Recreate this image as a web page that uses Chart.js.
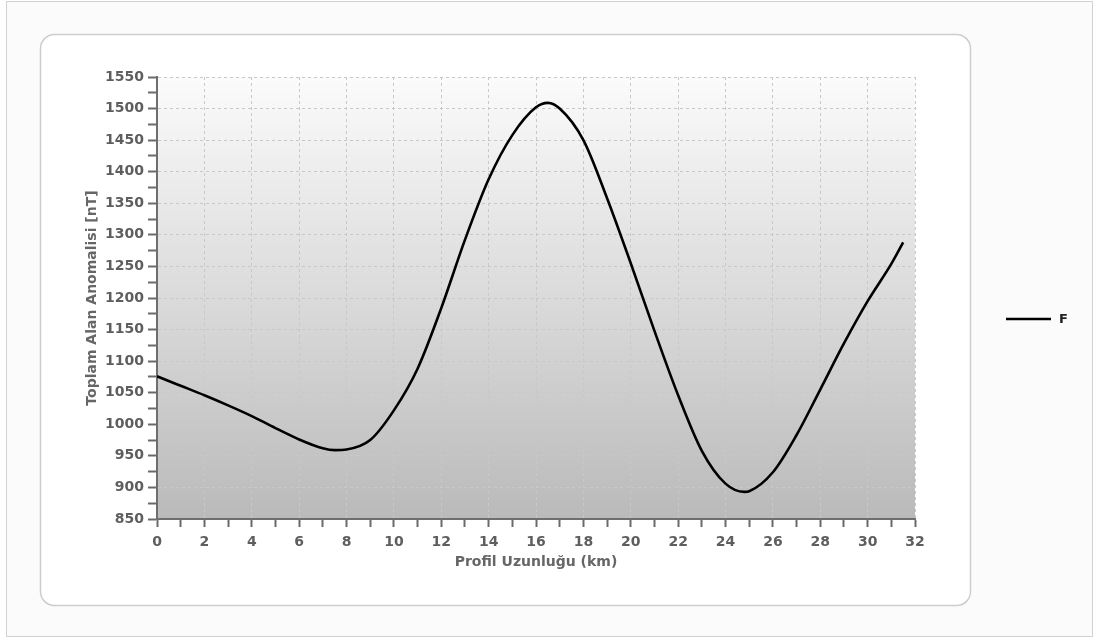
<!DOCTYPE html>
<html>
<head>
<meta charset="utf-8">
<script src="https://cdn.jsdelivr.net/npm/chart.js@4.4.1/dist/chart.umd.min.js"></script>
<style>
  body { margin: 0; background: #fff; }
  #wrap { width: 1098px; height: 639px; }
</style>
</head>
<body>
<div id="wrap"><canvas id="grafik" width="1098" height="639"></canvas></div>
<script>
/* ==================
    VERILER
================== */

// profil uzunluğu (km)
const mesafe = [0, 1, 2, 3, 4, 5, 6, 7, 7.5, 8, 9, 10, 11, 12, 13, 14, 15, 16, 16.5, 17, 18, 19, 20, 21, 22, 23, 24, 24.8, 25, 26, 27, 28, 29, 30, 31, 31.5];
// toplam alan anomalisi (nT)
const anomali = [1076, 1061, 1046, 1030, 1013, 994, 976, 962, 959, 960, 975, 1022, 1088, 1184, 1292, 1388, 1458, 1502, 1509, 1500, 1450, 1358, 1255, 1148, 1046, 958, 906, 893, 894, 924, 983, 1055, 1128, 1195, 1254, 1288];

const xEtiketAdim = 2;
const yEtiketAdim = 50;

const yaziFont = "'DejaVu Sans', Verdana, sans-serif";

/* ==================
    ARKA PLAN + LEJANT
================== */

const arkaPlan = {
    id: 'arkaPlan',
    beforeDraw(chart) {
        const c = chart.ctx;
        const a = chart.chartArea;
        c.save();
        c.fillStyle = '#ffffff';
        c.fillRect(0, 0, chart.width, chart.height);
        // dış çerçeve
        c.fillStyle = '#fbfbfb';
        c.fillRect(6, 1, 1086, 636);
        c.strokeStyle = '#d2d2d2';
        c.lineWidth = 1;
        c.strokeRect(6.5, 1.5, 1086, 635);
        // iç panel
        c.beginPath();
        c.roundRect(40.5, 34.5, 930, 571, 14);
        c.fillStyle = '#ffffff';
        c.fill();
        c.strokeStyle = '#cdcdcd';
        c.lineWidth = 1.5;
        c.stroke();
        // grafik alanı gradyanı
        const g = c.createLinearGradient(0, a.top, 0, a.bottom);
        g.addColorStop(0, '#fbfbfb');
        g.addColorStop(1, '#bababa');
        c.fillStyle = g;
        c.fillRect(a.left, a.top, a.right - a.left, a.bottom - a.top);
        c.restore();
    },
    afterDraw(chart) {
        const c = chart.ctx;
        const ds = chart.data.datasets[0];
        c.save();
        c.strokeStyle = ds.borderColor;
        c.lineWidth = 2.5;
        c.beginPath();
        c.moveTo(1006, 319);
        c.lineTo(1051, 319);
        c.stroke();
        c.fillStyle = '#222';
        c.font = 'bold 13px ' + yaziFont;
        c.textBaseline = 'middle';
        c.fillText(ds.label, 1059, 320);
        c.restore();
    }
};

/* ==================
    GRAFIK
================== */

const ctx = document.getElementById('grafik').getContext('2d');

new Chart(ctx, {
    type: 'line',
    data: {
        datasets: [{
            label: 'F',
            data: mesafe.map((x, i) => ({ x: x, y: anomali[i] })),
            borderColor: '#000000',
            borderWidth: 2.6,
            pointRadius: 0,
            cubicInterpolationMode: 'monotone',
            fill: false
        }]
    },
    options: {
        responsive: false,
        animation: false,
        events: [],
        layout: { padding: { left: 78, right: 183, top: 77, bottom: 68 } },
        plugins: {
            legend: { display: false },
            tooltip: { enabled: false }
        },
        scales: {
            x: {
                type: 'linear',
                min: 0,
                max: 32,
                afterFit: (s) => { s.height = 52; },
                ticks: {
                    stepSize: 1,
                    autoSkip: false,
                    maxRotation: 0,
                    padding: 7,
                    color: '#5e5e5e',
                    font: { family: yaziFont, size: 14, weight: 'bold' },
                    callback: (v) => v % xEtiketAdim === 0 ? v : ''
                },
                grid: {
                    color: (c) => (c.tick && c.tick.value % xEtiketAdim === 0) ? '#c8c8c8' : 'transparent',
                    tickColor: '#6a6a6a',
                    tickWidth: 2,
                    tickLength: 8,
                    tickBorderDash: [],
                    lineWidth: 1
                },
                border: { color: '#6e6e6e', width: 2, dash: [3, 3] },
                title: {
                    display: true,
                    text: 'Profil Uzunluğu (km)',
                    color: '#666666',
                    font: { family: yaziFont, size: 14, weight: 'bold' },
                    padding: { top: 0, bottom: 0 }
                }
            },
            y: {
                min: 850,
                max: 1550,
                afterFit: (s) => { s.width = 79; },
                ticks: {
                    stepSize: 25,
                    autoSkip: false,
                    padding: 4,
                    color: '#5e5e5e',
                    font: { family: yaziFont, size: 14, weight: 'bold' },
                    callback: (v) => v % yEtiketAdim === 0 ? v : ''
                },
                grid: {
                    color: (c) => (c.tick && c.tick.value % yEtiketAdim === 0) ? '#c8c8c8' : 'transparent',
                    tickColor: '#6a6a6a',
                    tickWidth: 2,
                    tickLength: 9,
                    tickBorderDash: [],
                    lineWidth: 1
                },
                border: { color: '#6e6e6e', width: 2, dash: [3, 3] },
                title: {
                    display: true,
                    text: 'Toplam Alan Anomalisi [nT]',
                    color: '#666666',
                    font: { family: yaziFont, size: 14, weight: 'bold' },
                    padding: { top: 6, bottom: 0 }
                }
            }
        }
    },
    plugins: [arkaPlan]
});
</script>
</body>
</html>
